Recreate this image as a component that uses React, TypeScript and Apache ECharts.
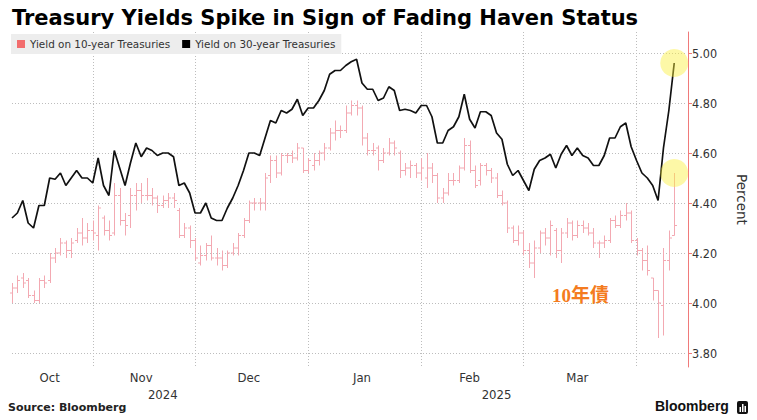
import React, { useEffect, useRef } from "react";
import * as echarts from "echarts";

// ---- categories (trading days) ----
const octDays = [9, 10, 11, 15, 16, 17, 18, 21, 22, 23, 24, 25, 28, 29, 30, 31];
const novDays = [1, 4, 5, 6, 7, 8, 12, 13, 14, 15, 18, 19, 20, 21, 22, 25, 26, 27, 29];
const decDays = [2, 3, 4, 5, 6, 9, 10, 11, 12, 13, 16, 17, 18, 19, 20, 23, 24, 26, 27, 30, 31];
const janDays = [2, 3, 6, 7, 8, 9, 10, 13, 14, 15, 16, 17, 21, 22, 23, 24, 27, 28, 29, 30, 31];
const febDays = [3, 4, 5, 6, 7, 10, 11, 12, 13, 14, 18, 19, 20, 21, 24, 25, 26, 27, 28];
const marDays = [3, 4, 5, 6, 7, 10, 11, 12, 13, 14, 17, 18, 19, 20, 21, 24, 25, 26, 27, 28, 31];
const aprDays = [1, 2, 3, 4, 7, 8, 9];
const aprEmptyDays = [10, 11];

const monthNames = ["Jan", "Feb", "Mar", "Apr", "May", "Jun", "Jul", "Aug", "Sep", "Oct", "Nov", "Dec"];
const yTicks = [3.8, 4.0, 4.2, 4.4, 4.6, 4.8, 5.0];

// ---- 30-year yield (close) ----
const thirtyYear = [
  4.34, 4.36, 4.41, 4.32, 4.30, 4.39, 4.39, 4.50, 4.495, 4.52, 4.47, 4.50, 4.53, 4.50, 4.50, 4.48,
  4.58, 4.47, 4.43, 4.61, 4.54, 4.47, 4.56, 4.64, 4.585, 4.62, 4.61, 4.59, 4.60, 4.60, 4.585, 4.47, 4.48, 4.44, 4.36,
  4.36, 4.40, 4.34, 4.33, 4.33, 4.38, 4.42, 4.47, 4.53, 4.60, 4.60, 4.59, 4.66, 4.73, 4.72, 4.77, 4.76, 4.775, 4.815, 4.75, 4.78,
  4.78, 4.81, 4.85, 4.915, 4.93, 4.93, 4.95, 4.965, 4.975, 4.88, 4.855, 4.855, 4.81, 4.82, 4.865, 4.85, 4.77, 4.775, 4.77, 4.76, 4.79,
  4.79, 4.745, 4.64, 4.64, 4.69, 4.705, 4.745, 4.835, 4.735, 4.70, 4.765, 4.765, 4.75, 4.68, 4.655, 4.555, 4.51, 4.53, 4.49,
  4.45, 4.535, 4.57, 4.58, 4.595, 4.54, 4.595, 4.63, 4.59, 4.62, 4.59, 4.58, 4.55, 4.55, 4.59, 4.66, 4.66, 4.705, 4.72, 4.625, 4.57,
  4.52, 4.50, 4.47, 4.41, 4.62, 4.77, 4.96,
];

// ---- 10-year yield OHLC ----
const tenOpen = [
  4.04, 4.06, 4.10, 4.09, 4.03, 4.01, 4.09, 4.09, 4.18, 4.20, 4.24, 4.21, 4.25, 4.28, 4.26, 4.29,
  4.27, 4.34, 4.29, 4.28, 4.43, 4.33, 4.35, 4.43, 4.45, 4.43, 4.43, 4.42, 4.39, 4.41, 4.42, 4.37, 4.27, 4.30, 4.25,
  4.16, 4.19, 4.23, 4.18, 4.18, 4.15, 4.20, 4.22, 4.27, 4.33, 4.40, 4.40, 4.40, 4.51, 4.57, 4.52, 4.59, 4.59, 4.58, 4.62, 4.53,
  4.55, 4.57, 4.60, 4.62, 4.68, 4.69, 4.69, 4.76, 4.79, 4.78, 4.66, 4.61, 4.62, 4.57, 4.60, 4.64, 4.60, 4.53, 4.54, 4.55, 4.52,
  4.50, 4.54, 4.51, 4.42, 4.44, 4.49, 4.49, 4.54, 4.63, 4.53, 4.49, 4.55, 4.53, 4.50, 4.43, 4.40, 4.30, 4.25, 4.28,
  4.21, 4.16, 4.22, 4.28, 4.26, 4.29, 4.21, 4.28, 4.32, 4.27, 4.31, 4.30, 4.28, 4.24, 4.24, 4.25, 4.33, 4.31, 4.35, 4.36, 4.25,
  4.21, 4.17, 4.10, 4.05, 3.99, 4.17, 4.27,
];
const tenHigh = [
  4.08, 4.11, 4.12, 4.10, 4.05, 4.10, 4.11, 4.20, 4.22, 4.26, 4.25, 4.26, 4.30, 4.34, 4.32, 4.33,
  4.39, 4.35, 4.33, 4.48, 4.46, 4.36, 4.46, 4.48, 4.48, 4.50, 4.46, 4.43, 4.43, 4.44, 4.44, 4.38, 4.32, 4.31, 4.26,
  4.23, 4.24, 4.27, 4.22, 4.21, 4.21, 4.24, 4.28, 4.34, 4.41, 4.42, 4.42, 4.52, 4.59, 4.59, 4.60, 4.60, 4.61, 4.64, 4.62, 4.58,
  4.60, 4.61, 4.64, 4.70, 4.73, 4.71, 4.79, 4.81, 4.81, 4.79, 4.68, 4.64, 4.63, 4.62, 4.66, 4.65, 4.61, 4.56, 4.57, 4.56, 4.58,
  4.60, 4.56, 4.52, 4.46, 4.52, 4.52, 4.55, 4.66, 4.65, 4.55, 4.56, 4.56, 4.54, 4.52, 4.45, 4.41, 4.31, 4.31, 4.29,
  4.24, 4.25, 4.29, 4.30, 4.33, 4.30, 4.30, 4.34, 4.33, 4.33, 4.33, 4.32, 4.30, 4.25, 4.27, 4.34, 4.35, 4.37, 4.40, 4.37, 4.26,
  4.22, 4.23, 4.10, 4.05, 4.22, 4.29, 4.52,
];
const tenLow = [
  4.00, 4.04, 4.06, 4.02, 4.00, 4.00, 4.06, 4.08, 4.16, 4.19, 4.18, 4.18, 4.24, 4.23, 4.24, 4.25,
  4.21, 4.27, 4.25, 4.27, 4.31, 4.27, 4.30, 4.37, 4.40, 4.41, 4.39, 4.36, 4.38, 4.38, 4.38, 4.26, 4.26, 4.22, 4.17,
  4.15, 4.17, 4.17, 4.15, 4.13, 4.14, 4.19, 4.19, 4.26, 4.32, 4.37, 4.37, 4.37, 4.48, 4.50, 4.51, 4.56, 4.56, 4.57, 4.52, 4.52,
  4.53, 4.55, 4.57, 4.61, 4.65, 4.66, 4.68, 4.75, 4.75, 4.63, 4.59, 4.59, 4.53, 4.56, 4.59, 4.59, 4.50, 4.51, 4.50, 4.50, 4.49,
  4.46, 4.48, 4.40, 4.40, 4.43, 4.47, 4.48, 4.53, 4.52, 4.46, 4.47, 4.51, 4.48, 4.42, 4.39, 4.28, 4.24, 4.23, 4.19,
  4.14, 4.10, 4.20, 4.23, 4.19, 4.18, 4.16, 4.26, 4.25, 4.26, 4.28, 4.27, 4.22, 4.18, 4.22, 4.24, 4.30, 4.30, 4.33, 4.24, 4.19,
  4.13, 4.11, 4.01, 3.86, 3.87, 4.13, 4.27,
];
const tenClose = [
  4.06, 4.09, 4.08, 4.03, 4.01, 4.09, 4.08, 4.18, 4.20, 4.24, 4.21, 4.24, 4.28, 4.26, 4.29, 4.28,
  4.38, 4.29, 4.27, 4.43, 4.33, 4.31, 4.43, 4.45, 4.43, 4.43, 4.42, 4.39, 4.41, 4.42, 4.41, 4.27, 4.30, 4.25, 4.18,
  4.19, 4.23, 4.18, 4.18, 4.15, 4.20, 4.22, 4.27, 4.33, 4.40, 4.40, 4.40, 4.50, 4.57, 4.52, 4.59, 4.59, 4.58, 4.62, 4.53, 4.57,
  4.57, 4.60, 4.62, 4.68, 4.69, 4.69, 4.76, 4.79, 4.78, 4.66, 4.61, 4.61, 4.57, 4.60, 4.64, 4.62, 4.53, 4.54, 4.55, 4.52, 4.54,
  4.54, 4.51, 4.42, 4.44, 4.49, 4.49, 4.54, 4.63, 4.53, 4.47, 4.55, 4.53, 4.50, 4.43, 4.40, 4.30, 4.25, 4.28, 4.21,
  4.16, 4.22, 4.28, 4.26, 4.31, 4.21, 4.28, 4.32, 4.27, 4.31, 4.30, 4.28, 4.24, 4.24, 4.25, 4.33, 4.31, 4.35, 4.36, 4.25, 4.21,
  4.17, 4.13, 4.05, 4.00, 4.17, 4.26, 4.31,
];

const PINK = "#f3a9b2";
const AXIS_PINK = "#f07a7a";
const NARROW = "'Liberation Sans Narrow', 'DejaVu Sans Condensed', 'Liberation Sans', sans-serif";

function buildDates() {
  const groups: [number, number, number[]][] = [
    [2024, 10, octDays], [2024, 11, novDays], [2024, 12, decDays],
    [2025, 1, janDays], [2025, 2, febDays], [2025, 3, marDays], [2025, 4, aprDays], [2025, 4, aprEmptyDays],
  ];
  const out: string[] = [];
  for (const [y, m, days] of groups) {
    for (const d of days) out.push(`${y}-${String(m).padStart(2, "0")}-${String(d).padStart(2, "0")}`);
  }
  return out;
}

export default function App() {
  const ref = useRef<HTMLDivElement>(null);
  useEffect(() => {
    if (!ref.current) return;
    const chart = echarts.init(ref.current, undefined, { renderer: "svg" });
    const dates = buildDates();
    const n = dates.length;
    const monthKey = (s: string) => s.slice(0, 7);
    const monthEnds: number[] = [];
    for (let i = 0; i < thirtyYear.length; i++) {
      if (i + 1 < thirtyYear.length && monthKey(dates[i]) !== monthKey(dates[i + 1])) monthEnds.push(i);
    }
    const monthEndSet = new Set(monthEnds);
    const monthLabelMap = new Map<number, string>();
    let prev = 0;
    for (const e of monthEnds) {
      const idx = Math.floor((prev + e) / 2);
      monthLabelMap.set(idx, monthNames[+dates[e].slice(5, 7) - 1]);
      prev = e;
    }
    const yearLabelMap = new Map<number, string>();
    let ys = 0;
    for (let i = 1; i <= n; i++) {
      if (i === n || dates[i].slice(0, 4) !== dates[i - 1].slice(0, 4)) {
        const end = i === n ? n - 1 : i - 1;
        const start = ys === 0 ? 0 : ys - 1;
        yearLabelMap.set(Math.round((start + end) / 2), dates[i - 1].slice(0, 4));
        ys = i;
      }
    }
    const last = thirtyYear.length - 1;
    const ohlc = tenOpen.map((o, i) => [i, o, tenHigh[i], tenLow[i], tenClose[i]]);

    chart.setOption({
      animation: false,
      backgroundColor: "#ffffff",
      title: {
        text: "Treasury Yields Spike in Sign of Fading Haven Status",
        left: 7,
        top: 2,
        textStyle: { fontFamily: "'DejaVu Sans', sans-serif", fontWeight: "bold", fontSize: 21, color: "#000" },
      },
      legend: {
        left: 11,
        top: 34,
        icon: "rect",
        itemWidth: 8,
        itemHeight: 8,
        itemGap: 12,
        padding: [5, 6, 5, 6],
        backgroundColor: "#ededed",
        textStyle: { fontFamily: "'DejaVu Sans', sans-serif", fontSize: 10.4, color: "#333" },
        data: [
          { name: "Yield on 10-year Treasuries", itemStyle: { color: "#f26d6d" } },
          { name: "Yield on 30-year Treasuries", itemStyle: { color: "#000" } },
        ],
      },
      grid: { left: 12, right: 63, top: 32, bottom: 53, containLabel: false },
      xAxis: [
        {
          type: "category",
          data: dates,
          boundaryGap: false,
          axisLine: { show: false },
          axisTick: { show: false },
          axisLabel: {
            interval: (i: number) => monthLabelMap.has(i),
            formatter: (_v: string, i: number) => monthLabelMap.get(i) || "",
            fontFamily: NARROW,
            fontSize: 13,
            color: "#333",
            margin: 4,
          },
          splitLine: {
            show: true,
            interval: (i: number) => monthEndSet.has(i),
            lineStyle: { type: [1, 2], color: "#bdbdbd", width: 1 },
          },
        },
        {
          type: "category",
          data: dates,
          boundaryGap: false,
          position: "bottom",
          offset: 17,
          axisLine: { show: false },
          axisTick: { show: false },
          splitLine: { show: false },
          axisLabel: {
            interval: (i: number) => yearLabelMap.has(i),
            formatter: (_v: string, i: number) => yearLabelMap.get(i) || "",
            fontFamily: NARROW,
            fontSize: 13,
            color: "#333",
            margin: 4,
          },
        },
      ],
      yAxis: {
        type: "value",
        position: "right",
        offset: 3,
        min: 3.744,
        max: 5.084,
        axisLine: { show: true, lineStyle: { color: AXIS_PINK, width: 1 } },
        axisTick: { show: true, length: 4, lineStyle: { color: AXIS_PINK }, customValues: yTicks },
        axisLabel: {
          customValues: yTicks,
          formatter: (v: number) => v.toFixed(2),
          fontFamily: NARROW,
          fontSize: 12.5,
          color: "#333",
          margin: 4,
        },
        splitLine: { show: false },
        name: "Percent",
        nameLocation: "middle",
        nameGap: 47,
        nameRotate: -90,
        nameTextStyle: { fontFamily: "'DejaVu Sans', sans-serif", fontSize: 13.5, color: "#333" },
      },
      series: [
        {
          name: "Yield on 10-year Treasuries",
          type: "custom",
          itemStyle: { color: "#f26d6d" },
          encode: { x: 0, y: [1, 2, 3, 4] },
          data: ohlc,
          z: 2,
          renderItem: (_p: any, api: any) => {
            const i = api.value(0);
            const o = api.coord([i, api.value(1)]);
            const h = api.coord([i, api.value(2)]);
            const l = api.coord([i, api.value(3)]);
            const c = api.coord([i, api.value(4)]);
            const x = Math.round(o[0]) + 0.5;
            const style = { stroke: PINK, lineWidth: 1 };
            return {
              type: "group",
              children: [
                { type: "line", shape: { x1: x, y1: h[1], x2: x, y2: l[1] }, style },
                { type: "line", shape: { x1: x - 2.5, y1: o[1], x2: x, y2: o[1] }, style },
                { type: "line", shape: { x1: x, y1: c[1], x2: x + 2.5, y2: c[1] }, style },
              ],
            };
          },
        },
        {
          name: "Yield on 30-year Treasuries",
          type: "line",
          data: thirtyYear,
          symbol: "none",
          z: 3,
          lineStyle: { color: "#111", width: 1.7 },
          itemStyle: { color: "#000" },
          markLine: {
            silent: true,
            symbol: ["none", "none"],
            label: { show: false },
            lineStyle: { type: [1, 2], color: "#bdbdbd", width: 1 },
            emphasis: { disabled: true },
            data: yTicks.map((v) => ({ yAxis: v })),
            z: 0,
          },
          markPoint: {
            silent: true,
            symbol: "circle",
            symbolSize: 28,
            label: { show: false },
            itemStyle: { color: "rgba(250, 240, 60, 0.45)" },
            data: [
              { coord: [dates[last], thirtyYear[last]] },
              { coord: [dates[last], tenHigh[last]] },
            ],
          },
        },
      ],
      graphic: [
        {
          type: "text",
          left: 552,
          top: 286,
          style: {
            text: "10年債",
            fill: "#f47b20",
            font: "bold 19px 'Liberation Serif', 'Noto Sans CJK JP', serif",
          },
        },
        {
          type: "text",
          left: 8,
          top: 402,
          style: { text: "Source: Bloomberg", fill: "#222", font: "bold 11px 'DejaVu Sans', sans-serif" },
        },
        {
          type: "text",
          left: 655,
          top: 399,
          style: { text: "Bloomberg", fill: "#111", font: "bold 14px 'Liberation Sans', sans-serif" },
        },
        {
          type: "group",
          left: 737,
          top: 401,
          children: [
            { type: "rect", shape: { x: 0, y: 0, width: 11, height: 13, r: 2 }, style: { fill: "#111" } },
            { type: "rect", shape: { x: 2.5, y: 6, width: 1.5, height: 5 }, style: { fill: "#fff" } },
            { type: "rect", shape: { x: 5, y: 3, width: 1.5, height: 8 }, style: { fill: "#fff" } },
            { type: "rect", shape: { x: 7.5, y: 5, width: 1.5, height: 6 }, style: { fill: "#fff" } },
          ],
        },
      ],
    });
    return () => chart.dispose();
  }, []);
  return <div ref={ref} style={{ width: 757, height: 420, position: "fixed", left: 0, top: 0 }} />;
}
